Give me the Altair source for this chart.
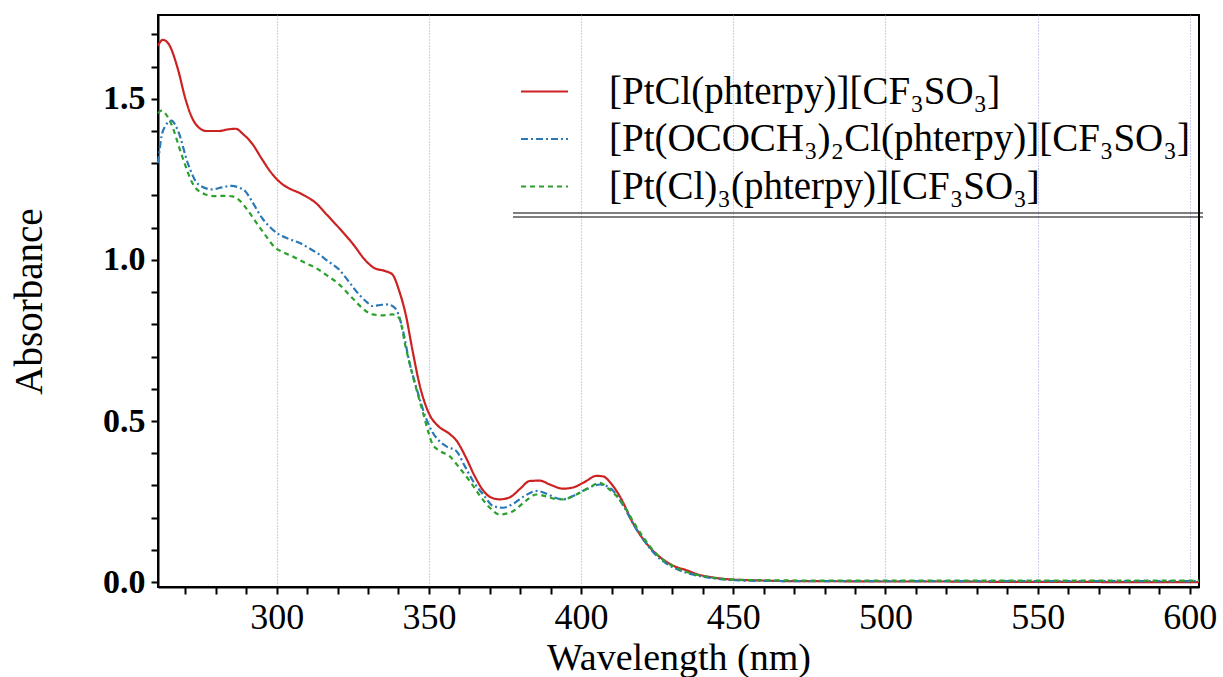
import altair as alt
import pandas as pd

series_names = [
    "[PtCl(phterpy)][CF₃SO₃]",
    "[Pt(OCOCH₃)₂Cl(phterpy)][CF₃SO₃]",
    "[Pt(Cl)₃(phterpy)][CF₃SO₃]",
]
series_colors = ["#cc2222", "#2a78b6", "#2ca02c"]
series_dashes = [[1, 0], [7, 3, 2, 3], [5, 4]]

red_wl = [261, 262.6, 264.5, 267.6, 270, 272, 274.5, 277, 281, 284, 286.5, 289, 292, 295, 298.4,
          301.7, 304.5, 307.2, 310, 312.7, 316.5, 320.4, 325, 329.2, 332, 335.8, 338, 340.2, 342.4,
          344.6, 347, 350.2, 353, 356.8, 359, 362, 365, 367.8, 370, 373.2, 376.5, 380, 383.1, 386.4,
          390, 394.1, 397.4, 401, 405.1, 407.3, 409.5, 412.8, 417.1, 421.5, 425, 428.1, 431, 434.7,
          438, 442.4, 446, 450, 460, 470, 480, 500, 520, 540, 560, 580, 603]
red_abs = [1.665, 1.683, 1.67, 1.59, 1.50, 1.445, 1.41, 1.40, 1.40, 1.405, 1.407, 1.39, 1.36, 1.315, 1.268,
           1.236, 1.22, 1.209, 1.195, 1.178, 1.14, 1.10, 1.05, 0.998, 0.975, 0.965, 0.955, 0.905, 0.83,
           0.72, 0.61, 0.52, 0.485, 0.46, 0.44, 0.39, 0.33, 0.285, 0.265, 0.257, 0.263, 0.29, 0.314, 0.315,
           0.302, 0.29, 0.294, 0.31, 0.33, 0.328, 0.31, 0.265, 0.182, 0.12, 0.085, 0.063, 0.048, 0.037,
           0.025, 0.016, 0.011, 0.008, 0.005, 0.003, 0.003, 0.002, 0.002, 0.001, 0.001, 0.0, 0.0]

blue_wl = [261, 262.6, 265.4, 267.6, 270.9, 274.2, 278.6, 282, 285.2, 287.5, 289.6, 292, 295.1, 298,
           300.6, 304, 307.2, 310.5, 313.8, 317, 320.4, 323.5, 327, 329.5, 331.4, 334, 335.8, 338, 339.6,
           341.5, 343.5, 346, 349, 351.2, 353.4, 356, 359, 361.8, 364.5, 368, 371.1, 374.4, 378, 381.5,
           385.4, 389, 391.5, 394.1, 397.5, 401, 406.2, 408.5, 410.6, 414, 417.5, 421.6, 425, 428, 431,
           435, 440, 445, 450, 460, 480, 500, 520, 540, 560, 580, 603]
blue_abs = [1.30, 1.40, 1.432, 1.40, 1.297, 1.235, 1.219, 1.225, 1.23, 1.225, 1.214, 1.18, 1.131, 1.10,
            1.08, 1.065, 1.054, 1.037, 1.018, 0.995, 0.971, 0.935, 0.893, 0.87, 0.857, 0.86, 0.862, 0.857, 0.84,
            0.78, 0.686, 0.60, 0.51, 0.465, 0.438, 0.42, 0.407, 0.36, 0.314, 0.27, 0.236, 0.231, 0.245, 0.268,
            0.283, 0.273, 0.262, 0.257, 0.268, 0.285, 0.303, 0.298, 0.283, 0.235, 0.175, 0.117, 0.08, 0.058, 0.042,
            0.028, 0.017, 0.01, 0.006, 0.004, 0.003, 0.003, 0.003, 0.003, 0.003, 0.003, 0.003]

green_wl = [261, 262.1, 265.4, 268.7, 272.5, 276.4, 280, 283, 285.5, 287.4, 290, 292.9, 296, 299.5,
            302.5, 306.1, 309.5, 312.7, 316.5, 320.4, 325, 329.2, 331.4, 335, 338, 340.2, 342.4, 345,
            347.9, 350, 351.2, 354, 356.8, 360, 363.4, 367, 370, 373.2, 377.6, 381.5, 385.4, 389, 391.5,
            394.1, 398, 402, 406.2, 409, 413.9, 417, 420.5, 424, 428, 431, 435, 440, 445, 450, 460, 480,
            500, 520, 540, 560, 580, 603]
green_abs = [1.455, 1.463, 1.421, 1.328, 1.235, 1.204, 1.198, 1.199, 1.197, 1.188, 1.16, 1.121, 1.08, 1.038,
             1.022, 1.007, 0.99, 0.976, 0.952, 0.925, 0.88, 0.842, 0.831, 0.828, 0.831, 0.82, 0.728, 0.63,
             0.531, 0.46, 0.428, 0.405, 0.391, 0.355, 0.314, 0.265, 0.231, 0.21, 0.22, 0.25, 0.272, 0.265, 0.258,
             0.257, 0.27, 0.29, 0.308, 0.29, 0.241, 0.19, 0.138, 0.095, 0.062, 0.046, 0.031, 0.019, 0.012, 0.008,
             0.006, 0.005, 0.005, 0.005, 0.005, 0.005, 0.005, 0.005]

x_tick_values = list(range(270, 601, 10))
y_tick_values = [round(i * 0.1, 1) for i in range(0, 18)]

frames = []
for name, wl, ab in zip(series_names, [red_wl, blue_wl, green_wl], [red_abs, blue_abs, green_abs]):
    frames.append(pd.DataFrame({"wavelength": wl, "absorbance": ab, "series": name}))
df = pd.concat(frames, ignore_index=True)

FONT = "Liberation Serif"

x_scale = alt.Scale(domain=[261, 603], nice=False, zero=False)
y_scale = alt.Scale(domain=[-0.015, 1.76], nice=False, zero=False)

x_axis = alt.Axis(
    values=x_tick_values,
    labelExpr="datum.value % 50 == 0 ? datum.label : ''",
    format="d",
    grid=True, gridColor="#9a9ad8", gridDash=[1, 2], gridWidth=1,
    gridOpacity={"condition": {"test": "datum.value % 50 == 0", "value": 1}, "value": 0},
    labelFont=FONT, labelFontSize=36, labelPadding=6, labelColor="black",
    title="Wavelength (nm)", titleFont=FONT, titleFontSize=38, titlePadding=4,
    titleColor="black", titleFontWeight="normal",
)

legend_cfg = dict(
    title=None, orient="none", legendX=362, legendY=52,
    symbolType="stroke", symbolSize=2209, symbolStrokeWidth=2,
    labelFont=FONT, labelColor="black",
    labelFontSize=39, labelOffset=40, rowPadding=2.5, padding=0, labelLimit=900,
)

lines = alt.Chart(df).mark_line(strokeWidth=2.2, interpolate="monotone").encode(
    x=alt.X("wavelength:Q", scale=x_scale, axis=x_axis),
    y=alt.Y(
        "absorbance:Q", scale=y_scale,
        axis=alt.Axis(
            values=y_tick_values,
            labelExpr="abs(datum.value*2 - round(datum.value*2)) < 0.001 ? format(datum.value, '.1f') : ''",
            grid=False,
            labelFont=FONT, labelFontSize=34, labelFontWeight="bold", labelPadding=6, labelColor="black",
            title="Absorbance", titleFont=FONT, titleFontSize=39, titlePadding=53,
            titleColor="black", titleFontWeight="normal",
        ),
    ),
    color=alt.Color(
        "series:N", sort=series_names,
        scale=alt.Scale(domain=series_names, range=series_colors),
        legend=alt.Legend(**legend_cfg),
    ),
    strokeDash=alt.StrokeDash(
        "series:N", sort=series_names,
        scale=alt.Scale(domain=series_names, range=series_dashes),
        legend=alt.Legend(**legend_cfg),
    ),
    detail="series:N",
)

deco_df = pd.DataFrame({"k": [0]})
rule1 = alt.Chart(deco_df).mark_rule(color="black", strokeWidth=1.2, clip=False).encode(
    x=alt.value(355), x2=alt.value(1045), y=alt.value(198)
)
rule2 = alt.Chart(deco_df).mark_rule(color="black", strokeWidth=1.2, clip=False).encode(
    x=alt.value(355), x2=alt.value(1045), y=alt.value(202)
)

chart = alt.layer(lines, rule1, rule2).properties(
    width=1041, height=572,
    background="white",
    padding={"left": 158, "top": 15, "right": 24, "bottom": 90},
    autosize=alt.AutoSizeParams(type="none"),
).configure_view(
    stroke="black", strokeWidth=2
).configure_axis(
    tickSize=7, tickWidth=2, tickColor="black",
    domainColor="black", domainWidth=2,
)

chart.save("out.html", embed_options={"renderer": "svg", "actions": False})
